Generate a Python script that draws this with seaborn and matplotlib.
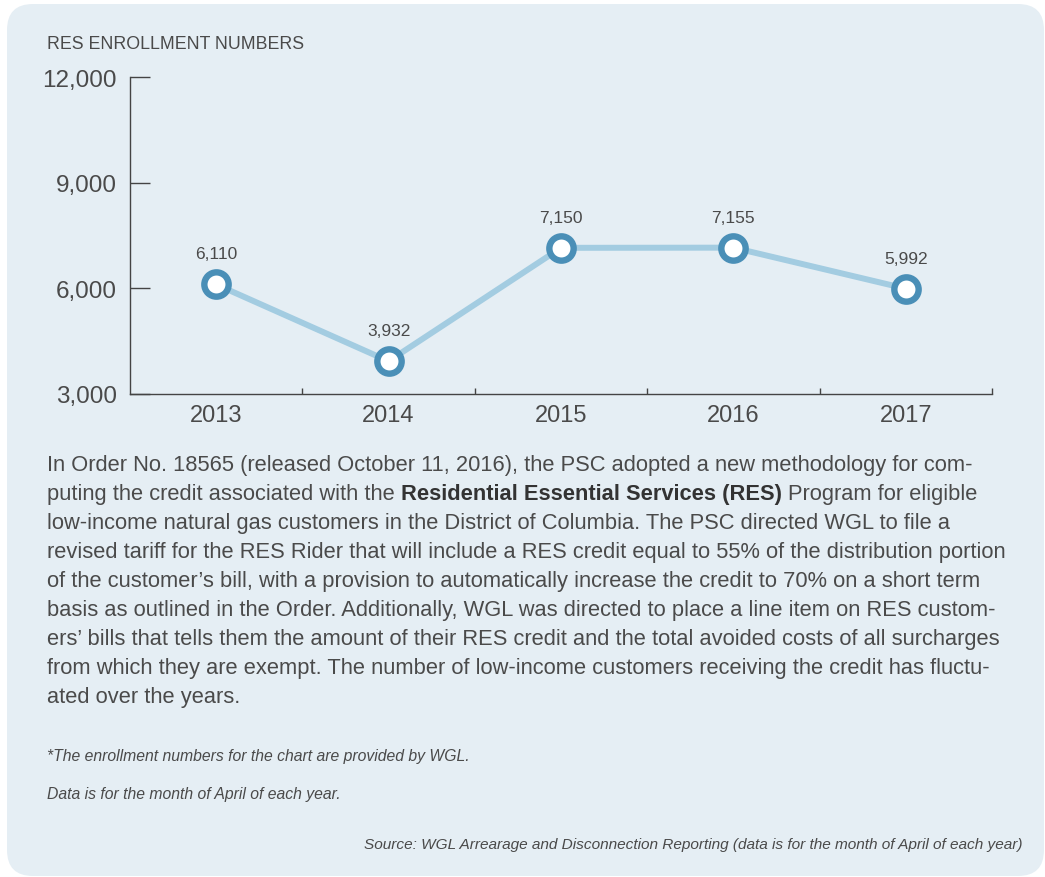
import numpy as np
import matplotlib
matplotlib.use("Agg")
import matplotlib.pyplot as plt
import seaborn as sns
from matplotlib.patches import FancyBboxPatch

years = ["2013", "2014", "2015", "2016", "2017"]
enrollment = [6110, 3932, 7150, 7155, 5992]
y_ticks = [3000, 6000, 9000, 12000]

title = "RES ENROLLMENT NUMBERS"
para_lines = [
    "In Order No. 18565 (released October 11, 2016), the PSC adopted a new methodology for com-",
    None,  # line with bold part, built below
    "low-income natural gas customers in the District of Columbia. The PSC directed WGL to file a",
    "revised tariff for the RES Rider that will include a RES credit equal to 55% of the distribution portion",
    "of the customer\u2019s bill, with a provision to automatically increase the credit to 70% on a short term",
    "basis as outlined in the Order. Additionally, WGL was directed to place a line item on RES custom-",
    "ers\u2019 bills that tells them the amount of their RES credit and the total avoided costs of all surcharges",
    "from which they are exempt. The number of low-income customers receiving the credit has fluctu-",
    "ated over the years.",
]
bold_line = ["puting the credit associated with the", "Residential Essential Services (RES)",
             "Program for eligible"]
note1 = "*The enrollment numbers for the chart are provided by WGL."
note2 = "Data is for the month of April of each year."
source = "Source: WGL Arrearage and Disconnection Reporting (data is for the month of April of each year)"

sns.set_theme(style="white")
plt.rcParams["font.family"] = ["Liberation Sans", "DejaVu Sans"]

W, H, DPI = 1045, 878, 100
TXT = "#4a4a4a"
LINE_C = "#a3cce1"
MARK_C = "#4a8fb7"

fig = plt.figure(figsize=(W / DPI, H / DPI), dpi=DPI, facecolor="white")

# rounded light-blue panel behind everything
panel = FancyBboxPatch((0.07, 0.01), 10.37, 8.72, boxstyle="round,pad=0,rounding_size=0.26",
                       transform=fig.dpi_scale_trans, fc="#e5eef4", ec="none", zorder=-10)
fig.patches.append(panel)


def px(x, y):
    return x / W, 1 - y / H


ax = fig.add_axes([130 / W, 1 - 395 / H, (992 - 130) / W, (395 - 78) / H], zorder=2)
ax.set_facecolor("none")

sns.lineplot(x=years, y=enrollment, ax=ax, color=LINE_C, linewidth=4.3, marker="o",
             markersize=17.5, markerfacecolor="white", markeredgecolor=MARK_C,
             markeredgewidth=4.6, sort=False, zorder=3)

for i, v in enumerate(enrollment):
    ax.annotate(f"{v:,}", (i, v), xytext=(0, 22), textcoords="offset points",
                ha="center", va="center", fontsize=12.5, color=TXT)

ax.set_xlim(-0.5, len(years) - 0.5)
ax.set_ylim(y_ticks[0], y_ticks[-1])
ax.set_yticks(y_ticks)
ax.set_yticklabels([f"{t:,}" for t in y_ticks])
ax.set_xticks(range(len(years)))
ax.set_xticklabels(years)
ax.set_xticks(np.arange(0.5, len(years), 1.0), minor=True)
ax.set_xlabel("")
ax.set_ylabel("")

for s in ["top", "right"]:
    ax.spines[s].set_visible(False)
for s in ["left", "bottom"]:
    ax.spines[s].set_color("#444444")
    ax.spines[s].set_linewidth(1.0)

ax.tick_params(axis="y", direction="in", length=14.5, width=1.0, color="#444444",
               labelsize=17.5, labelcolor=TXT, pad=9.5, left=True)
ax.tick_params(axis="x", which="major", length=0, labelsize=17, labelcolor=TXT, pad=7)
ax.tick_params(axis="x", which="minor", direction="in", length=4.5, width=1.0,
               color="#444444", bottom=True)

fig.text(*px(47, 49), title, fontsize=12.8, color=TXT, va="baseline", ha="left")

# paragraph, font size fitted to the widest line
renderer = fig.canvas.get_renderer()
probe = fig.text(0, 0, para_lines[3], fontsize=16)
w = probe.get_window_extent(renderer).width
probe.remove()
fs = 16 * (1008 - 47) / w

x0, base0, step = 47, 471, 29
for k, line in enumerate(para_lines):
    yb = base0 + k * step
    if line is not None:
        fig.text(*px(x0, yb), line, fontsize=fs, color=TXT, va="baseline", ha="left")
        continue
    sp_a = fig.text(0, 0, "a a", fontsize=fs)
    sp_b = fig.text(0, 0, "aa", fontsize=fs)
    space = sp_a.get_window_extent(renderer).width - sp_b.get_window_extent(renderer).width
    sp_a.remove()
    sp_b.remove()
    x = x0
    for j, seg in enumerate(bold_line):
        t = fig.text(*px(x, yb), seg, fontsize=fs, color=TXT if j != 1 else "#333333",
                     fontweight="bold" if j == 1 else "normal", va="baseline", ha="left")
        x += t.get_window_extent(renderer).width + space

fig.text(*px(47, 761), note1, fontsize=11.3, style="italic", color=TXT, va="baseline", ha="left")
fig.text(*px(47, 799), note2, fontsize=11.3, style="italic", color=TXT, va="baseline", ha="left")
fig.text(*px(1022, 849), source, fontsize=11.1, style="italic", color=TXT, va="baseline", ha="right")

fig.savefig("out.png", dpi=DPI, facecolor="white")
